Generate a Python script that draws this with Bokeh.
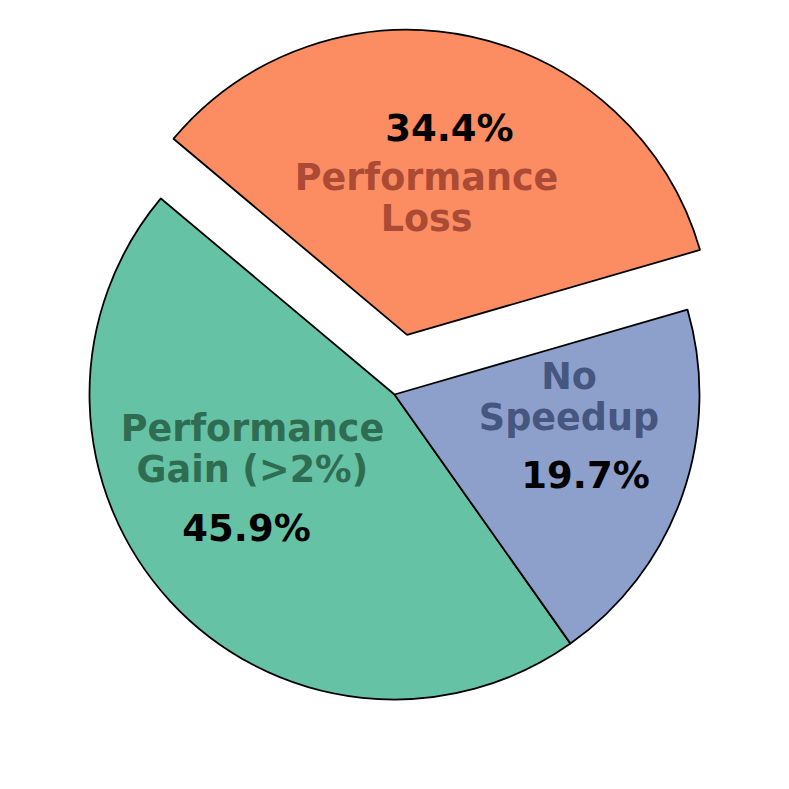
import numpy as np
from bokeh.plotting import figure
from bokeh.models import ColumnDataSource, Range1d
from bokeh.core.properties import value
from bokeh.embed import file_html
from bokeh.resources import INLINE

# ---- data ----
categories = ["Performance\nGain (>2%)", "No\nSpeedup", "Performance\nLoss"]
shares = [45.9, 19.7, 34.4]
explode = [0.0, 0.0, 0.2]

# ---- style / layout ----
fill_colors = ["#66c2a5", "#8da0cb", "#fc8d62"]
label_colors = ["#2f6d53", "#45567f", "#ab4a35"]
start_angle = 140.0
pct_radius = [0.654, 0.680, 0.689]
pct_shift = [-0.5, -3.6, 0.3]
label_radius = [0.499, 0.572, 0.453]
label_shift = [-21.6, 18.5, 3.8]

vals = np.array(shares, dtype=float)
spans = vals / vals.sum() * 360.0
starts = start_angle + np.concatenate([[0.0], np.cumsum(spans)[:-1]])
ends = starts + spans
mids = (starts + ends) / 2.0
ex = np.array(explode)
cx = ex * np.cos(np.radians(mids))
cy = ex * np.sin(np.radians(mids))

pa = np.radians(mids + np.array(pct_shift))
la = np.radians(mids + np.array(label_shift))
px = cx + np.array(pct_radius) * np.cos(pa)
py = cy + np.array(pct_radius) * np.sin(pa)
lx = cx + np.array(label_radius) * np.cos(la)
ly = cy + np.array(label_radius) * np.sin(la)

src = ColumnDataSource(dict(
    cx=cx, cy=cy, start=starts, end=ends, color=fill_colors,
    px=px, py=py, pct=[f"{v:.1f}%" for v in vals],
    lx=lx, ly=ly, label=categories, lcolor=label_colors,
))

p = figure(width=773, height=773, output_backend="svg", toolbar_location=None,
           x_range=Range1d(-394 / 305, 379 / 305), y_range=Range1d(-379 / 305, 394 / 305),
           min_border=0, outline_line_color=None)
p.axis.visible = False
p.grid.visible = False

p.wedge(x="cx", y="cy", radius=1.0, start_angle="start", end_angle="end",
        start_angle_units="deg", end_angle_units="deg", direction="anticlock",
        fill_color="color", line_color="black", line_width=1.8, source=src)

p.text(x="lx", y="ly", text="label", text_color="lcolor",
       text_font=value("DejaVu Sans"), text_font_style="bold",
       text_font_size=value("36.5px"), text_align="center", text_baseline="middle",
       text_line_height=0.96, source=src)
p.text(x="px", y="py", text="pct", text_color="black",
       text_font=value("DejaVu Sans"), text_font_style="bold",
       text_font_size=value("37px"), text_align="center", text_baseline="middle",
       source=src)

open("out.html", "w").write(file_html(p, INLINE))
